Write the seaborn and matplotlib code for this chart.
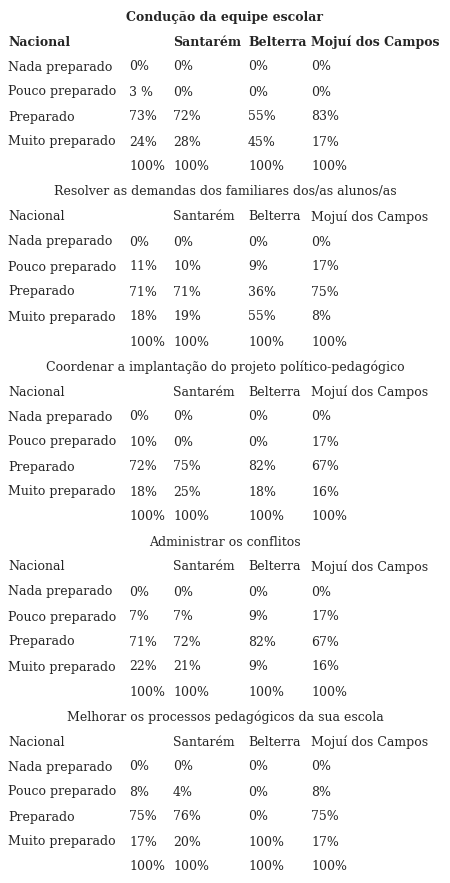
import seaborn as sns
from matplotlib import pyplot as plt

sns.set_theme(style='white')
plt.rcParams['font.family'] = ['DejaVu Serif']

titles = ['Condução da equipe escolar',
          'Resolver as demandas dos familiares dos/as alunos/as',
          'Coordenar a implantação do projeto político-pedagógico',
          'Administrar os conflitos',
          'Melhorar os processos pedagógicos da sua escola']
columns = ['Nacional', 'Santarém', 'Belterra', 'Mojuí dos Campos']
levels = ['Nada preparado', 'Pouco preparado', 'Preparado', 'Muito preparado']

nacional = [[0, 3, 73, 24], [0, 11, 71, 18], [0, 10, 72, 18], [0, 7, 71, 22], [0, 8, 75, 17]]
santarem = [[0, 0, 72, 28], [0, 10, 71, 19], [0, 0, 75, 25], [0, 7, 72, 21], [0, 4, 76, 20]]
belterra = [[0, 0, 55, 45], [0, 9, 36, 55], [0, 0, 82, 18], [0, 9, 82, 9], [0, 0, 0, 100]]
mojui = [[0, 0, 83, 17], [0, 17, 75, 8], [0, 17, 67, 16], [0, 17, 67, 16], [0, 8, 75, 17]]

fig = plt.figure(figsize=(4.5, 8.83), dpi=100)
ax = fig.add_axes([0, 0, 1, 1])
ax.set_xlim(0, 450)
ax.set_ylim(883, 0)
ax.axis('off')

xs = [8, 129, 173, 248, 311]
fs = 9
for b, title in enumerate(titles):
    y0 = 17 + b * 175
    wt = 'bold' if b == 0 else 'normal'
    ax.text(225, y0, title, ha='center', va='center', fontsize=fs, fontweight=wt)
    ax.text(xs[0], y0 + 25, 'Nacional', va='center', fontsize=fs, fontweight=wt)
    for x, c in zip(xs[2:], columns[1:]):
        ax.text(x, y0 + 25, c, va='center', fontsize=fs, fontweight=wt)
    for i, lev in enumerate(levels):
        y = y0 + 50 + i * 25
        ax.text(xs[0], y, lev, va='center', fontsize=fs)
        vals = [nacional[b][i], santarem[b][i], belterra[b][i], mojui[b][i]]
        for x, v in zip(xs[1:], vals):
            s = '3 %' if (b == 0 and i == 1 and x == xs[1]) else f'{v}%'
            ax.text(x, y, s, va='center', fontsize=fs)
    for x in xs[1:]:
        ax.text(x, y0 + 150, '100%', va='center', fontsize=fs)

fig.savefig('out.png', dpi=100, facecolor='white')
